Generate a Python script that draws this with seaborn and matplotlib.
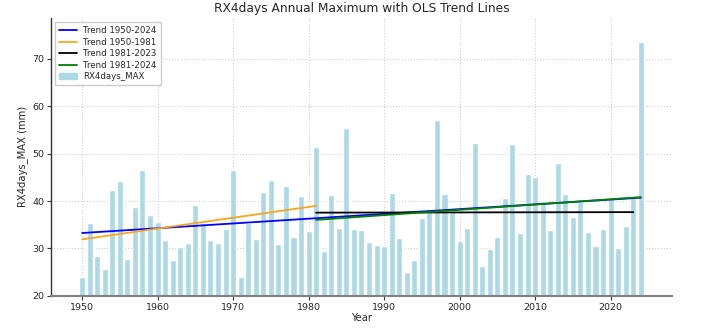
import numpy as np
import pandas as pd
import matplotlib
matplotlib.use("Agg")
import matplotlib.pyplot as plt
import seaborn as sns

years = list(range(1950, 2025))
rx4days_max = [
    23.9, 35.3, 28.5, 25.7, 42.3, 44.2, 27.7, 38.7, 46.5, 37.0,   # 1950-1959
    35.5, 31.7, 27.5, 30.4, 31.1, 39.1, 35.3, 31.7, 31.2, 34.1,   # 1960-1969
    46.5, 24.0, 35.4, 32.0, 42.0, 44.4, 30.9, 43.2, 32.4, 41.1,   # 1970-1979
    33.7, 51.4, 29.4, 41.3, 34.4, 55.4, 34.1, 33.8, 31.4, 30.8,   # 1980-1989
    30.6, 41.7, 32.2, 25.0, 27.6, 36.4, 37.9, 57.1, 41.5, 37.7,   # 1990-1999
    31.5, 34.4, 52.3, 26.3, 29.9, 32.5, 40.6, 52.1, 33.2, 45.8,   # 2000-2009
    45.1, 39.9, 33.8, 48.0, 41.5, 36.6, 39.8, 33.5, 30.5, 34.1,   # 2010-2019
    40.4, 30.2, 34.7, 40.6, 73.6,                                 # 2020-2024
]
trend_periods = [(1950, 2024), (1950, 1981), (1981, 2023), (1981, 2024)]
trend_colors = ["blue", "#f5a623", "black", "green"]
x_ticks = [1950, 1960, 1970, 1980, 1990, 2000, 2010, 2020]
y_ticks = [20, 30, 40, 50, 60, 70]

df = pd.DataFrame({"Year": years, "RX4days_MAX": rx4days_max})

sns.set_style("whitegrid", {"grid.linestyle": ":", "grid.color": "#d0d0d0"})
plt.rcParams["font.family"] = ["DejaVu Sans"]

fig = plt.figure(figsize=(7.2, 3.31), dpi=100)
ax = fig.add_axes([0.071, 0.106, 0.862, 0.84])

sns.barplot(data=df, x="Year", y="RX4days_MAX", native_scale=True,
            color="lightblue", saturation=1, width=0.8, ax=ax, zorder=2)

line_handles = []
for (start, end), col in zip(trend_periods, trend_colors):
    sub = df[(df["Year"] >= start) & (df["Year"] <= end)]
    slope, intercept = np.polyfit(sub["Year"], sub["RX4days_MAX"], 1)
    fit = pd.DataFrame({"Year": sub["Year"], "fit": intercept + slope * sub["Year"]})
    sns.lineplot(data=fit, x="Year", y="fit", color=col, lw=1.3, ax=ax, zorder=3)
    line_handles.append(plt.Line2D([], [], color=col, lw=1.3))

bar_handle = matplotlib.patches.Patch(color="lightblue")
ax.legend(line_handles + [bar_handle],
          [f"Trend {s}-{e}" for s, e in trend_periods] + ["RX4days_MAX"],
          loc="upper left", fontsize=6.2, frameon=True, framealpha=1,
          edgecolor="#cccccc", fancybox=False, handlelength=2.0,
          borderpad=0.45, labelspacing=0.3)

ax.set_xlim(1945.9, 2028.1)
ax.set_ylim(20, 78.6)
ax.set_xticks(x_ticks)
ax.set_yticks(y_ticks)
ax.tick_params(labelsize=6.8, length=3, color="#333333", pad=2, left=True, bottom=True)
ax.set_xlabel("Year", fontsize=7.2, labelpad=1)
ax.set_ylabel("RX4days_MAX (mm)", fontsize=7.2, labelpad=3)
ax.set_title("RX4days Annual Maximum with OLS Trend Lines", fontsize=8.8, pad=4)

for s in ["top", "right"]:
    ax.spines[s].set_visible(False)
ax.spines["left"].set_color("#333333")
ax.spines["left"].set_linewidth(1.0)
ax.spines["bottom"].set_color("#808080")
ax.spines["bottom"].set_linewidth(1.5)
ax.set_axisbelow(True)

fig.savefig("out.png", dpi=100)
